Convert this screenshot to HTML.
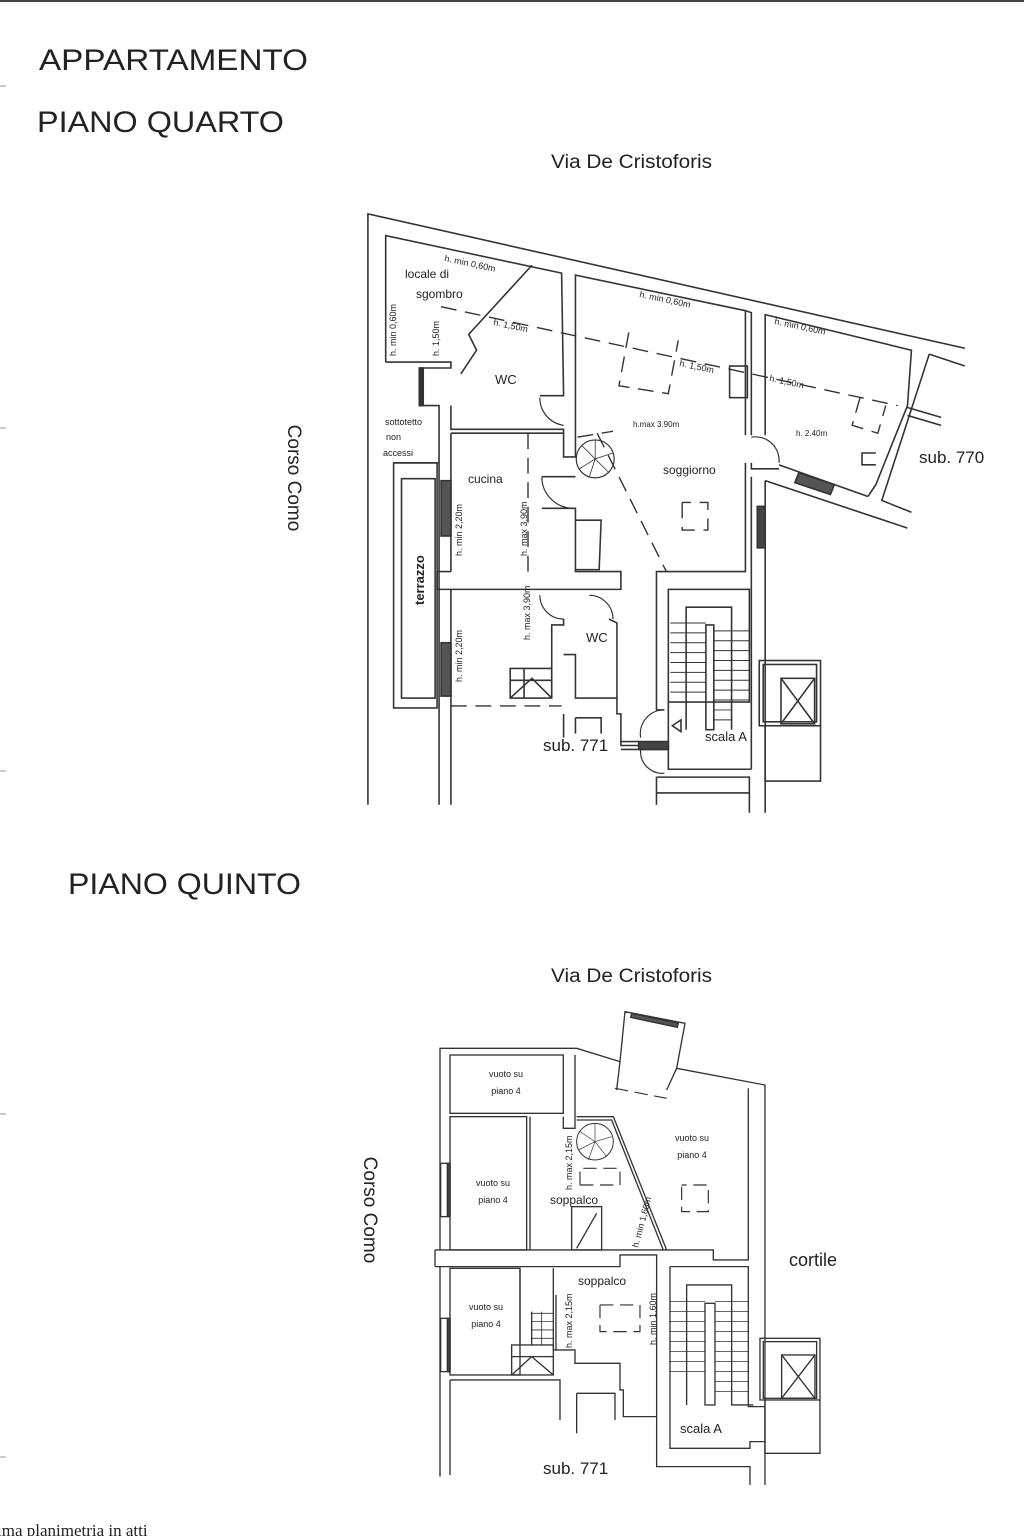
<!DOCTYPE html>
<html><head><meta charset="utf-8"><style>
html,body{margin:0;padding:0;background:#fff}
svg{display:block}
text{font-family:"Liberation Sans",sans-serif;fill:#222}
</style></head><body>
<svg width="1024" height="1536" viewBox="0 0 1024 1536" xmlns="http://www.w3.org/2000/svg">
<rect x="0" y="0" width="1024" height="2" fill="#444"/>
<g stroke="#999" stroke-width="1">
<line x1="0" y1="86" x2="6" y2="86"/><line x1="0" y1="428" x2="6" y2="428"/><line x1="0" y1="771" x2="6" y2="771"/><line x1="0" y1="1114" x2="6" y2="1114"/><line x1="0" y1="1457" x2="6" y2="1457"/>
</g>
<text x="39" y="70" font-size="30" textLength="269" lengthAdjust="spacingAndGlyphs">APPARTAMENTO</text>
<text x="37" y="132" font-size="30" textLength="247" lengthAdjust="spacingAndGlyphs">PIANO QUARTO</text>
<text x="551" y="168" font-size="19" textLength="161" lengthAdjust="spacingAndGlyphs">Via De Cristoforis</text>
<text x="68" y="894" font-size="30" textLength="233" lengthAdjust="spacingAndGlyphs">PIANO QUINTO</text>
<text x="551" y="982" font-size="19" textLength="161" lengthAdjust="spacingAndGlyphs">Via De Cristoforis</text>
<text transform="translate(288,478) rotate(90)" font-size="19" text-anchor="middle">Corso Como</text>
<text transform="translate(364,1210) rotate(90)" font-size="19" text-anchor="middle">Corso Como</text>
<text x="919" y="463" font-size="17">sub. 770</text>
<text x="543" y="751" font-size="17">sub. 771</text>
<text x="543" y="1474" font-size="17">sub. 771</text>
<text x="789" y="1266" font-size="18">cortile</text>
<text x="-3" y="1536" font-size="17" style="font-family:'Liberation Serif',serif">ima planimetria in atti</text>

<!-- UPPER PLAN -->
<g transform="translate(360,200) scale(0.3953)" fill="none" stroke="#333" stroke-width="4">
<polyline points="20,1530 20,35 1530,375"/>
<polyline points="65,410 65,90 510,185 515,495 455,495"/>
<polyline points="65,410 220,410"/>
<polyline points="435,165 275,340 295,380 255,440"/>
<polyline points="220,410 230,410 230,425 150,425 150,520 200,520 200,1530"/>
<rect x="150" y="425" width="10" height="95" fill="#333"/>
<polyline points="230,520 230,580 515,580 515,650 545,650 545,190 975,280 975,595"/>
<polyline points="230,590 515,590"/>
<polyline points="230,590 230,940"/>
<polyline points="195,940 195,985 660,985 660,940 545,940 545,780 460,780"/>
<polyline points="545,700 460,700"/>
<polyline points="195,940 230,940"/>
<polyline points="85,665 200,665"/>
<rect x="85" y="665" width="110" height="620"/>
<rect x="105" y="705" width="85" height="555"/>
<rect x="205" y="710" width="25" height="140" fill="#555"/>
<rect x="205" y="1120" width="25" height="135" fill="#555"/>
<polyline points="230,985 230,1530"/>
<polyline points="545,810 610,810 605,935 545,935"/>
<polyline points="485,1260 485,1075 515,1075 515,1060"/>
<polyline points="630,1060 650,1070 650,1300 660,1300 660,1370 705,1370"/>
<polyline points="515,1150 545,1150 545,1260 650,1260"/>
<polyline points="545,1310 610,1310 610,1350"/>
<polyline points="545,1310 545,1350"/>
<polyline points="515,1300 515,1360"/>
<rect x="380" y="1185" width="105" height="75"/>
<path d="M380,1215 L485,1215 M415,1185 L415,1260"/>
<polyline points="380,1260 435,1210 485,1260"/>
<polyline points="975,280 990,285 990,595"/>
<polyline points="975,665 975,940 750,940 750,1290 770,1290"/>
<polyline points="990,665 990,680 1060,680"/>
<polyline points="1025,710 1025,1550"/>
<polyline points="990,700 990,1440"/>
<rect x="1005" y="775" width="20" height="105" fill="#444"/>
<rect x="780" y="985" width="205" height="285"/>
<polyline points="825,1340 825,1030 940,1030 940,1340"/>
<rect x="875" y="1075" width="20" height="265"/>
<g stroke-width="2.5">
<line x1="785" y1="1070" x2="875" y2="1070"/><line x1="785" y1="1095" x2="875" y2="1095"/><line x1="785" y1="1120" x2="875" y2="1120"/><line x1="785" y1="1145" x2="875" y2="1145"/><line x1="785" y1="1170" x2="875" y2="1170"/><line x1="785" y1="1195" x2="875" y2="1195"/><line x1="785" y1="1220" x2="875" y2="1220"/><line x1="785" y1="1245" x2="875" y2="1245"/>
<line x1="895" y1="1090" x2="985" y2="1090"/><line x1="895" y1="1115" x2="985" y2="1115"/><line x1="895" y1="1140" x2="985" y2="1140"/><line x1="895" y1="1165" x2="985" y2="1165"/><line x1="895" y1="1190" x2="985" y2="1190"/><line x1="895" y1="1215" x2="985" y2="1215"/><line x1="895" y1="1240" x2="985" y2="1240"/><line x1="895" y1="1265" x2="985" y2="1265"/><line x1="895" y1="1290" x2="940" y2="1290"/><line x1="895" y1="1315" x2="940" y2="1315"/>
</g>
<polyline points="780,1270 780,1440 990,1440"/>
<polyline points="750,1460 985,1460 985,1550"/>
<polyline points="750,1500 985,1500"/>
<polyline points="750,1460 750,1530"/>
<rect x="1010" y="1165" width="155" height="165"/>
<rect x="1020" y="1175" width="135" height="145"/>
<rect x="1065" y="1210" width="85" height="115"/>
<path d="M1065,1210 L1150,1325 M1150,1210 L1065,1325"/>
<polyline points="1025,1330 1025,1470 1165,1470 1165,1330"/>
<polyline points="660,1370 660,1380 780,1380 780,1390 660,1390"/>
<rect x="705" y="1370" width="75" height="20" fill="#444"/>
<polygon points="790,1330 812,1315 812,1345"/>
<!-- right rooms -->
<polyline points="1025,595 1025,290 1395,380 1385,520 1305,720 1285,750"/>
<polyline points="1025,710 1385,830"/>
<polyline points="1060,670 1285,750"/>
<polyline points="1440,390 1320,760 1395,790"/>
<polyline points="1440,390 1530,420"/>
<path d="M1385,525 L1470,550 M1385,545 L1470,570"/>
<polyline points="1305,640 1270,640 1270,670 1305,670"/>
<polygon points="1110,690 1200,720 1190,745 1100,715" fill="#555"/>
<rect x="935" y="420" width="45" height="80"/>
<!-- doors -->
<path d="M455,500 A70,70 0 0 0 515,570" stroke-width="3"/>
<path d="M460,700 A80,80 0 0 0 540,780" stroke-width="3"/>
<path d="M990,600 A60,60 0 0 1 1060,665" stroke-width="3"/>
<path d="M455,1000 A60,60 0 0 0 515,1060" stroke-width="3"/>
<path d="M580,1000 A60,60 0 0 1 640,1060" stroke-width="3"/>
<path d="M770,1290 A60,60 0 0 0 710,1360 M710,1390 A55,55 0 0 0 770,1450" stroke-width="3"/>
<circle cx="595" cy="655" r="48" stroke-width="3"/>
<path d="M595,655 L595,607 M595,655 L640,640 M595,655 L560,620 M595,655 L555,680 M595,655 L580,700 M595,655 L630,690" stroke-width="2"/>
<!-- dashed -->
<g stroke-dasharray="40,22" stroke-width="3.5">
<line x1="205" y1="270" x2="1360" y2="520"/>
<polyline points="680,335 655,470 780,490 805,355"/>
<line x1="600" y1="590" x2="775" y2="940"/>
<line x1="550" y1="600" x2="640" y2="585"/>
<polyline points="815,765 815,835 880,835 880,765 815,765"/>
<polyline points="1265,500 1245,570 1310,590 1330,520"/>
<line x1="425" y1="590" x2="425" y2="940"/>
<line x1="230" y1="1280" x2="510" y2="1280"/>
</g>
</g>
<g font-size="11" fill="#333">
<text x="405" y="278" font-size="12">locale di</text>
<text x="416" y="298" font-size="12">sgombro</text>
<text x="495" y="384" font-size="13">WC</text>
<text x="468" y="483" font-size="12">cucina</text>
<text x="663" y="474" font-size="12">soggiorno</text>
<text x="586" y="642" font-size="13">WC</text>
<text x="705" y="741" font-size="13">scala A</text>
<text x="385" y="425" font-size="9">sottotetto</text>
<text x="386" y="440" font-size="9">non</text>
<text x="383" y="456" font-size="9">accessi</text>
<text transform="translate(424,605) rotate(-90)" font-size="13" font-weight="bold">terrazzo</text>
<text x="444" y="261" font-size="9" transform="rotate(12 444 261)">h. min 0,60m</text>
<text x="639" y="297" font-size="9" transform="rotate(12 639 297)">h. min 0,60m</text>
<text x="774" y="324" font-size="9" transform="rotate(12 774 324)">h. min 0,60m</text>
<text x="493" y="325" font-size="9" transform="rotate(12 493 325)">h. 1,50m</text>
<text x="679" y="366" font-size="9" transform="rotate(12 679 366)">h. 1,50m</text>
<text x="769" y="381" font-size="9" transform="rotate(12 769 381)">h. 1,50m</text>
<text x="633" y="427" font-size="8">h.max 3.90m</text>
<text x="796" y="436" font-size="8">h. 2.40m</text>
<text transform="translate(396,356) rotate(-90)" font-size="9">h. min 0,60m</text>
<text transform="translate(439,356) rotate(-90)" font-size="9">h. 1,50m</text>
<text transform="translate(462,556) rotate(-90)" font-size="9">h. min 2,20m</text>
<text transform="translate(527,556) rotate(-90)" font-size="9">h. max 3,90m</text>
<text transform="translate(462,682) rotate(-90)" font-size="9">h. min 2,20m</text>
<text transform="translate(530,640) rotate(-90)" font-size="9">h. max 3,90m</text>
</g>

<!-- LOWER PLAN -->
<g transform="translate(420,1000) scale(0.3333)" fill="none" stroke="#333" stroke-width="4">
<polyline points="60,750 60,145 470,145 600,185 615,35 795,70 770,205 1035,255 1035,1455"/>
<polygon points="635,40 775,70 772,82 632,52" fill="#555"/>
<path d="M600,185 L590,270 M770,205 L740,270"/>
<path d="M45,750 L45,800 M60,800 L60,1430 M90,1140 L90,1425"/>
<polyline points="45,750 880,750 880,780 985,780 985,265"/>
<polyline points="465,165 465,385 430,385 430,350"/>
<rect x="90" y="165" width="340" height="175"/>
<rect x="90" y="350" width="230" height="400"/>
<polyline points="330,350 330,750"/>
<rect x="62" y="490" width="28" height="160" fill="#fff"/>
<rect x="82" y="490" width="8" height="160" fill="#444"/>
<rect x="62" y="955" width="28" height="160" fill="#fff"/>
<rect x="82" y="955" width="8" height="160" fill="#444"/>
<polyline points="470,350 580,350 740,750"/>
<polyline points="470,360 575,360 730,750"/>
<circle cx="525" cy="425" r="55" stroke-width="3"/>
<path d="M525,425 L525,370 M525,425 L575,410 M525,425 L480,395 M525,425 L475,450 M525,425 L505,480 M525,425 L560,470" stroke-width="2"/>
<rect x="455" y="620" width="90" height="130"/>
<polyline points="470,745 530,640"/>
<polyline points="45,800 600,800 600,765 710,765 710,1400 990,1400 990,1455"/>
<rect x="90" y="805" width="210" height="320"/>
<path d="M300,805 L300,1035 M400,805 L400,1050 M408,885 L408,1050"/>
<rect x="275" y="1035" width="125" height="90"/>
<path d="M335,935 L335,1035 M275,1070 L400,1070 M275,1125 L335,1070 L400,1125"/>
<g stroke-width="2.5"><line x1="335" y1="940" x2="400" y2="940"/><line x1="335" y1="965" x2="400" y2="965"/><line x1="335" y1="990" x2="400" y2="990"/><line x1="335" y1="1015" x2="400" y2="1015"/><line x1="365" y1="935" x2="365" y2="1035"/></g>
<polyline points="90,1140 420,1140 420,1260"/>
<polyline points="400,1050 465,1050 465,1090 600,1090 600,1170 610,1170 610,1250 710,1250"/>
<polyline points="470,1180 585,1180 585,1260"/>
<polyline points="470,1180 470,1300"/>
<polyline points="750,800 985,800 985,1220 1035,1220"/>
<polyline points="750,800 750,1345 990,1345 990,1325 1035,1325"/>
<polyline points="800,1215 800,855 935,855 935,1215 1000,1215"/>
<rect x="855" y="910" width="30" height="305"/>
<g stroke-width="2.5">
<line x1="750" y1="905" x2="855" y2="905"/><line x1="750" y1="935" x2="855" y2="935"/><line x1="750" y1="965" x2="855" y2="965"/><line x1="750" y1="995" x2="855" y2="995"/><line x1="750" y1="1025" x2="855" y2="1025"/><line x1="750" y1="1055" x2="855" y2="1055"/><line x1="750" y1="1085" x2="855" y2="1085"/><line x1="750" y1="1115" x2="855" y2="1115"/>
<line x1="885" y1="905" x2="985" y2="905"/><line x1="885" y1="935" x2="985" y2="935"/><line x1="885" y1="965" x2="985" y2="965"/><line x1="885" y1="995" x2="985" y2="995"/><line x1="885" y1="1025" x2="985" y2="1025"/><line x1="885" y1="1055" x2="985" y2="1055"/><line x1="885" y1="1085" x2="985" y2="1085"/><line x1="885" y1="1115" x2="985" y2="1115"/><line x1="885" y1="1145" x2="985" y2="1145"/><line x1="885" y1="1175" x2="985" y2="1175"/>
</g>
<rect x="1020" y="1015" width="180" height="185"/>
<rect x="1030" y="1025" width="160" height="170"/>
<rect x="1085" y="1065" width="100" height="130"/>
<path d="M1085,1065 L1185,1195 M1185,1065 L1085,1195"/>
<polyline points="1035,1200 1035,1360 1200,1360 1200,1200"/>
<g stroke-dasharray="40,20" stroke-width="3.5">
<line x1="585" y1="265" x2="740" y2="295"/>
<polyline points="480,555 480,505 600,505 600,555 480,555"/>
<polyline points="785,560 785,635 865,635 865,555 785,555"/>
<polyline points="540,915 540,995 660,995 660,915 540,915"/>
</g>
</g>
<g fill="#333">
<text x="506" y="1077" font-size="9" text-anchor="middle">vuoto su</text>
<text x="506" y="1094" font-size="9" text-anchor="middle">piano 4</text>
<text x="493" y="1186" font-size="9" text-anchor="middle">vuoto su</text>
<text x="493" y="1203" font-size="9" text-anchor="middle">piano 4</text>
<text x="692" y="1141" font-size="9" text-anchor="middle">vuoto su</text>
<text x="692" y="1158" font-size="9" text-anchor="middle">piano 4</text>
<text x="486" y="1310" font-size="9" text-anchor="middle">vuoto su</text>
<text x="486" y="1327" font-size="9" text-anchor="middle">piano 4</text>
<text x="550" y="1204" font-size="12">soppalco</text>
<text x="578" y="1285" font-size="12">soppalco</text>
<text x="680" y="1433" font-size="13">scala A</text>
<text transform="translate(572,1190) rotate(-90)" font-size="9">h. max 2,15m</text>
<text transform="translate(572,1348) rotate(-90)" font-size="9">h. max 2,15m</text>
<text transform="translate(656,1345) rotate(-90)" font-size="9">h. min 1,60m</text>
<text transform="translate(638,1248) rotate(-75)" font-size="9">h. min 1,60m</text>
</g>
</svg>
</body></html>
